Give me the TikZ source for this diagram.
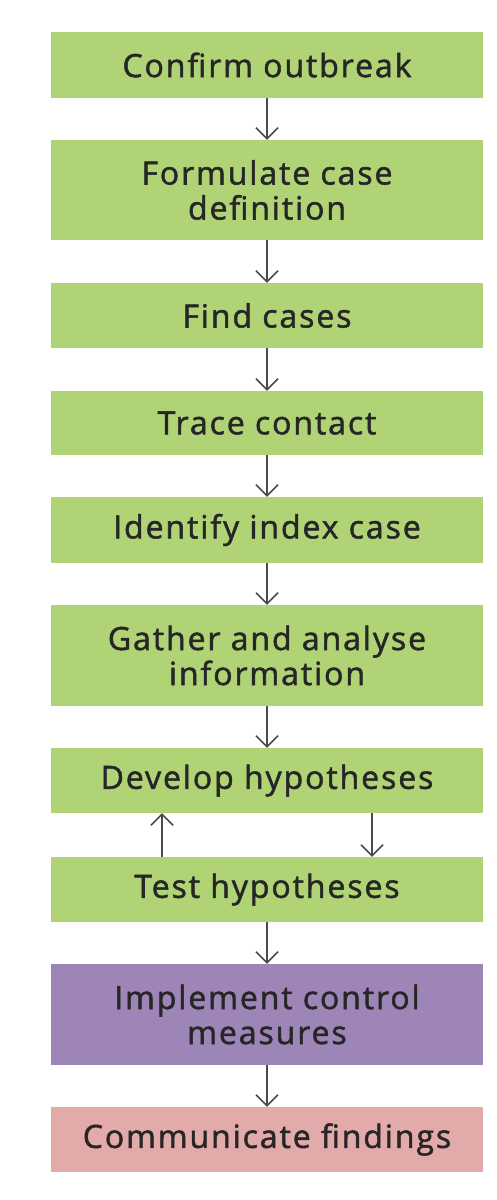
\documentclass[tikz,border=0pt]{standalone}
\usepackage{fontspec}
\setmainfont[LetterSpace=6,FakeBold=1.6]{Open Sans}
\usetikzlibrary{arrows.meta}
\definecolor{boxgreen}{HTML}{AFD375}
\definecolor{boxpurple}{HTML}{9E85B8}
\definecolor{boxpink}{HTML}{E3AAAA}
\definecolor{txt}{HTML}{262626}
\definecolor{arr}{HTML}{4A4A4A}
\begin{document}
\begin{tikzpicture}[x=1pt,y=-1pt,
  stage/.style={rectangle, fill=boxgreen, inner sep=0pt, minimum width=432pt,
    text=txt, align=center, font=\fontsize{32}{35}\selectfont},
  conn/.style={draw=arr, line width=1.5pt, -{Straight Barb[length=11pt,width=22pt,line width=1.5pt]}}]
\useasboundingbox (0,0) rectangle (496,1200);
\node[stage, minimum height=66pt] (n1) at (267,65) {Confirm outbreak};
\node[stage, minimum height=100pt] (n2) at (267,190) {Formulate case\\definition};
\node[stage, minimum height=65pt] (n3) at (267,315.5) {Find cases};
\node[stage, minimum height=64pt] (n4) at (267,423) {Trace contact};
\node[stage, minimum height=66pt] (n5) at (267,530) {Identify index case};
\node[stage, minimum height=101pt] (n6) at (267,655.5) {Gather and analyse\\information};
\node[stage, minimum height=65pt] (n7) at (267,780.5) {Develop hypotheses};
\node[stage, minimum height=65pt] (n8) at (267,889.5) {Test hypotheses};
\node[stage, fill=boxpurple, minimum height=101pt] (n9) at (267,1014.5) {Implement control\\measures};
\node[stage, fill=boxpink, minimum height=65pt] (n10) at (267,1139.5) {Communicate findings};
\draw[conn] (n1) -- (n2);
\draw[conn] (n2) -- (n3);
\draw[conn] (n3) -- (n4);
\draw[conn] (n4) -- (n5);
\draw[conn] (n5) -- (n6);
\draw[conn] (n6) -- (n7);
\draw[conn] (n8.north -| 162,0) -- (n7.south -| 162,0);
\draw[conn] (n7.south -| 372,0) -- (n8.north -| 372,0);
\draw[conn] (n8) -- (n9);
\draw[conn] (n9) -- (n10);
\end{tikzpicture}
\end{document}
